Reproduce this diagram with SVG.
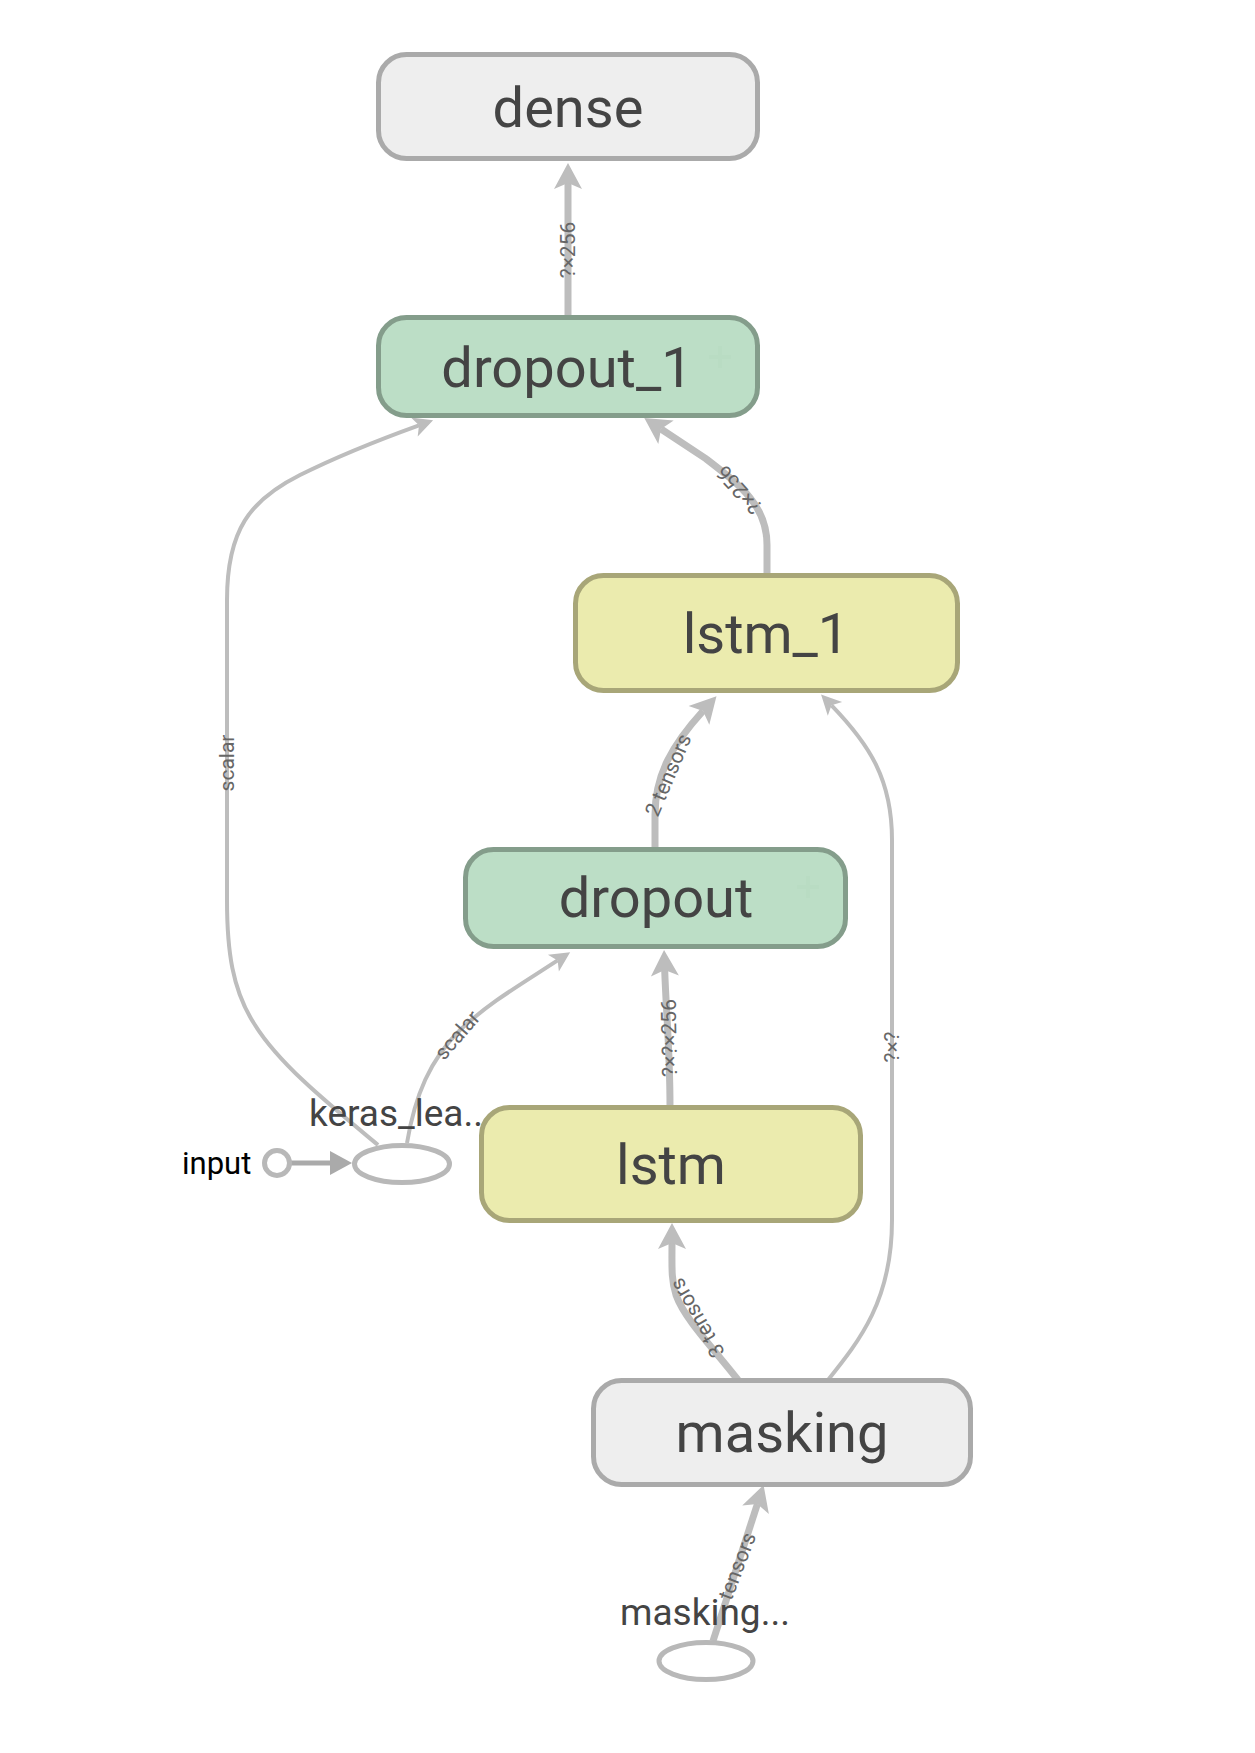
<svg xmlns="http://www.w3.org/2000/svg" width="1255" height="1753" viewBox="0 0 1255 1753">
<style>
  .edge { fill: none; stroke: #bdbdbd; }
  .thick { stroke-width: 7; }
  .thin { stroke-width: 4; }
  .node-label { font-family: Roboto, "Liberation Sans", sans-serif; font-size: 56px; fill: #444; text-anchor: middle; }
  .op-label { font-family: Roboto, "Liberation Sans", sans-serif; font-size: 37px; fill: #444; }
  .edge-label { font-family: Roboto, "Liberation Sans", sans-serif; font-size: 21px; fill: #666; text-anchor: middle; }
  .grey { fill: #eeeeee; stroke: #aaaaaa; stroke-width: 5; }
  .green { fill: #bcdec6; stroke: #849d8b; stroke-width: 5; }
  .yellow { fill: #ebebae; stroke: #a8a678; stroke-width: 5; }
  .op { fill: #ffffff; stroke: #b8b8b8; stroke-width: 5; }
  .plus { stroke: #b9dcc3; stroke-width: 4; fill: none; }
</style>
<defs>
  <marker id="ah-thick" markerUnits="userSpaceOnUse" viewBox="-10 -20 40 40" refX="0" refY="0" markerWidth="40" markerHeight="40" orient="auto">
    <path d="M-6,-14 L20,0 L-6,14 L0,0 z" fill="#bdbdbd"/>
  </marker>
  <marker id="ah-thin" markerUnits="userSpaceOnUse" viewBox="-10 -15 35 30" refX="0" refY="0" markerWidth="35" markerHeight="30" orient="auto">
    <path d="M-5,-10 L15,0 L-5,10 L0,0 z" fill="#bdbdbd"/>
  </marker>
  <marker id="ah-input" markerUnits="userSpaceOnUse" viewBox="-2 -14 28 28" refX="0" refY="0" markerWidth="28" markerHeight="28" orient="auto">
    <path d="M0,-12 L22,0 L0,12 z" fill="#aaaaaa"/>
  </marker>
</defs>
<rect width="1255" height="1753" fill="#ffffff"/>

<g id="connectors">
  <path class="edge thick" d="M568,315 L568,183" marker-end="url(#ah-thick)"/>
  <path class="edge thick" d="M767,575 L767,545 C767,505 740,485 705,458 L661,429" marker-end="url(#ah-thick)"/>
  <path class="edge thick" d="M655,849 L655,815 C655,775 672,745 703,711" marker-end="url(#ah-thick)"/>
  <path class="edge thick" d="M670,1107 C670,1050 666,1010 664.7,970" marker-end="url(#ah-thick)"/>
  <path class="edge thick" d="M738,1380 C715,1350 685,1320 676,1295 C671,1280 672,1265 672,1243" marker-end="url(#ah-thick)"/>
  <path class="edge thin" d="M828,1380 C860,1340 892,1300 892,1220 L892,840 C892,780 870,745 831.5,705.3" marker-end="url(#ah-thin)"/>
  <path class="edge thin" d="M378,1145 C330,1105 280,1065 255,1025 C232,990 227,950 227,900 L227,600 C227,530 250,500 300,475 C330,460 370,443 419,425.3" marker-end="url(#ah-thin)"/>
  <path class="edge thin" d="M407,1143 C415,1095 430,1060 460,1030 C490,1002 520,985 557.6,960.4" marker-end="url(#ah-thin)"/>
  <path class="edge thick" d="M713,1641 L757.4,1504" marker-end="url(#ah-thick)"/>
  <path d="M290,1163 L330,1163" fill="none" stroke="#aaaaaa" stroke-width="5" marker-end="url(#ah-input)"/>

  <text class="edge-label" transform="translate(568,250) rotate(-90)" dy=".35em">?×256</text>
  <text class="edge-label" transform="translate(739,490) rotate(-132)" dy=".35em">?×256</text>
  <text class="edge-label" transform="translate(668,775) rotate(-67)" dy=".35em">2 tensors</text>
  <text class="edge-label" transform="translate(669,1038) rotate(-91)" dy=".35em">?×?×256</text>
  <text class="edge-label" transform="translate(697,1318) rotate(-120)" dy=".35em">3 tensors</text>
  <text class="edge-label" transform="translate(892,1047) rotate(-90)" dy=".35em">?×?</text>
  <text class="edge-label" transform="translate(227,763) rotate(-90)" dy=".35em">scalar</text>
  <text class="edge-label" transform="translate(457,1035) rotate(-49)" dy=".35em">scalar</text>
  <text class="edge-label" transform="translate(737,1566) rotate(-69)" dy=".35em">tensors</text>
</g>

<g id="dense">
  <rect class="grey" x="378.5" y="54.5" width="379" height="104" rx="28"/>
  <text class="node-label" x="568" y="127">dense</text>
</g>
<g id="dropout_1">
  <rect class="green" x="378.5" y="317.5" width="379" height="98" rx="28"/>
  <path class="plus" d="M720,346 L720,368 M709,357 L731,357"/>
  <text class="node-label" x="567" y="387">dropout_1</text>
</g>
<g id="lstm_1">
  <rect class="yellow" x="575.5" y="575.5" width="382" height="115" rx="28"/>
  <text class="node-label" x="766" y="653">lstm_1</text>
</g>
<g id="dropout">
  <rect class="green" x="465.5" y="849.5" width="380" height="97" rx="28"/>
  <path class="plus" d="M808,876 L808,898 M797,887 L819,887"/>
  <text class="node-label" x="656" y="917">dropout</text>
</g>
<g id="lstm">
  <rect class="yellow" x="481.5" y="1107.5" width="379" height="113" rx="28"/>
  <text class="node-label" x="671" y="1184">lstm</text>
</g>
<g id="masking">
  <rect class="grey" x="593.5" y="1380.5" width="377" height="104" rx="28"/>
  <text class="node-label" x="782" y="1452">masking</text>
</g>
<g id="input">
  <circle class="op" cx="277" cy="1163" r="12.5"/>
  <text x="182" y="1174" font-family="Roboto, 'Liberation Sans', sans-serif" font-size="31" fill="#000000">input</text>
</g>
<g id="keras_learning_phase">
  <ellipse class="op" cx="402" cy="1164" rx="47.5" ry="18.5"/>
  <text class="op-label" x="309" y="1126">keras_lea..</text>
</g>
<g id="masking_input">
  <ellipse class="op" cx="706" cy="1661" rx="47" ry="18.5"/>
  <text class="op-label" x="620" y="1625">masking...</text>
</g>
</svg>
